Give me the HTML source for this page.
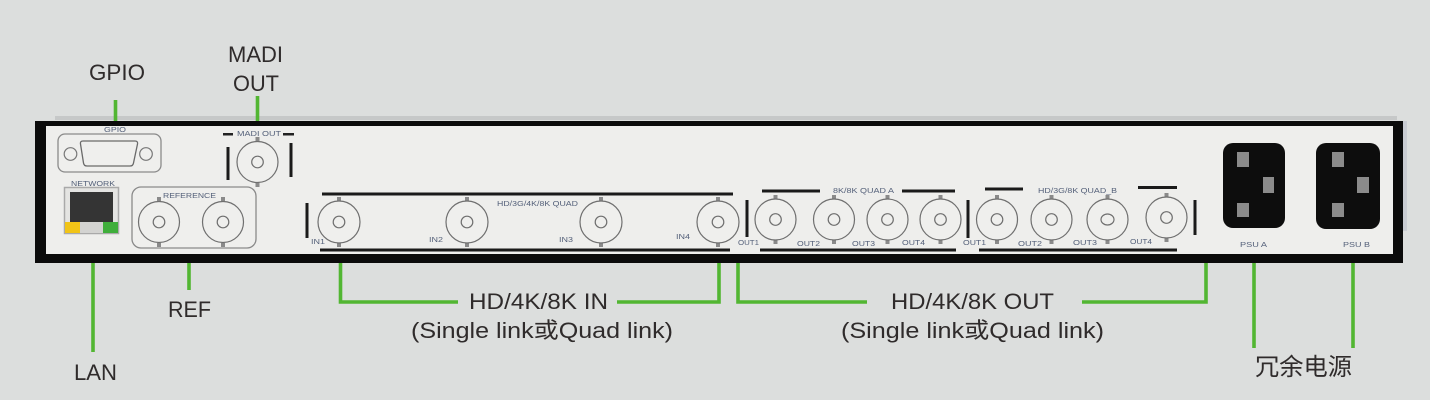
<!DOCTYPE html>
<html><head><meta charset="utf-8"><style>
html,body{margin:0;padding:0;background:#dcdedd;}
svg{display:block;}
.lbl{font-family:"Liberation Sans","Noto Sans CJK SC",sans-serif;fill:#2f2b2b;}
.sm{font-family:"Liberation Sans",sans-serif;fill:#55617a;font-size:7px;}
</style></head><body>
<svg width="1430" height="400" viewBox="0 0 1430 400" xmlns="http://www.w3.org/2000/svg">
<rect x="0" y="0" width="1430" height="400" fill="#dcdedd"/>
<!-- shadow above panel -->
<rect x="55" y="116" width="1342" height="4" fill="#c6c8c8"/>
<rect x="1403" y="121" width="4" height="110" fill="#c9ccd2"/>
<!-- panel -->
<rect x="35" y="121" width="1368" height="142" fill="#0b0b0b"/>
<rect x="46" y="126" width="1347" height="128" fill="#eeeeec"/>

<!-- GPIO -->
<text class="sm" x="104" y="132" textLength="22" lengthAdjust="spacingAndGlyphs">GPIO</text>
<rect x="58" y="134" width="103" height="38" rx="7" fill="#efefed" stroke="#8a8a8a" stroke-width="1.3"/>
<circle cx="70.5" cy="154" r="6.3" fill="#efefed" stroke="#777" stroke-width="1.2"/>
<circle cx="146" cy="154" r="6.3" fill="#efefed" stroke="#777" stroke-width="1.2"/>
<path d="M83 141 L135 141 Q138 141 137.5 144 L133.5 163 Q133 166 130 166 L87 166 Q84 166 83.5 163 L80.5 144 Q80 141 83 141 Z" fill="#efefed" stroke="#6a6a6a" stroke-width="1.3"/>

<!-- NETWORK -->
<text class="sm" x="71" y="186" textLength="44" lengthAdjust="spacingAndGlyphs">NETWORK</text>
<rect x="64.5" y="187.5" width="54" height="46" fill="#e4e4e2" stroke="#a9a9a9" stroke-width="1.5"/>
<rect x="70" y="192" width="43" height="30" fill="#343434"/>
<rect x="65" y="222" width="15" height="11" fill="#f1c417"/>
<rect x="80" y="222" width="23" height="11" fill="#d3d3d1"/>
<rect x="103" y="222" width="15" height="11" fill="#3fae3b"/>

<!-- REFERENCE -->
<rect x="132" y="187" width="124" height="61" rx="9" fill="#efefed" stroke="#8a8a8a" stroke-width="1.3"/>
<text class="sm" x="163" y="198" textLength="53" lengthAdjust="spacingAndGlyphs">REFERENCE</text>

<!-- MADI OUT -->
<text class="sm" x="237" y="136" textLength="44" lengthAdjust="spacingAndGlyphs">MADI OUT</text>
<rect x="223" y="133" width="10" height="2.5" fill="#222"/>
<rect x="283" y="133" width="11" height="2.5" fill="#222"/>
<rect x="226.5" y="147" width="3" height="33" fill="#1a1a1a"/>
<rect x="289.5" y="143" width="3" height="34" fill="#1a1a1a"/>

<!-- IN group bars -->
<rect x="322" y="192.5" width="411" height="3" fill="#1a1a1a"/>
<rect x="320" y="248.5" width="410" height="3" fill="#1a1a1a"/>
<rect x="305.5" y="203" width="3" height="35" fill="#1a1a1a"/>
<rect x="745.5" y="200" width="3" height="37" fill="#1a1a1a"/>
<text class="sm" x="497" y="206" textLength="81" lengthAdjust="spacingAndGlyphs">HD/3G/4K/8K QUAD</text>
<text class="sm" x="311" y="244" textLength="14" lengthAdjust="spacingAndGlyphs">IN1</text>
<text class="sm" x="429" y="242" textLength="14" lengthAdjust="spacingAndGlyphs">IN2</text>
<text class="sm" x="559" y="242" textLength="14" lengthAdjust="spacingAndGlyphs">IN3</text>
<text class="sm" x="676" y="239" textLength="14" lengthAdjust="spacingAndGlyphs">IN4</text>

<!-- OUT group bars -->
<rect x="762" y="189.5" width="58" height="3" fill="#1a1a1a"/>
<rect x="902" y="189.5" width="53" height="3" fill="#1a1a1a"/>
<rect x="985" y="187.5" width="38" height="3" fill="#1a1a1a"/>
<rect x="1138" y="186" width="39" height="3" fill="#1a1a1a"/>
<text class="sm" x="833" y="193" textLength="61" lengthAdjust="spacingAndGlyphs">8K/8K QUAD A</text>
<text class="sm" x="1038" y="193" textLength="79" lengthAdjust="spacingAndGlyphs">HD/3G/8K QUAD_B</text>
<rect x="760" y="248.5" width="196" height="3" fill="#1a1a1a"/>
<rect x="979" y="248.5" width="198" height="3" fill="#1a1a1a"/>
<rect x="966.5" y="200" width="3" height="38" fill="#1a1a1a"/>
<rect x="1193.5" y="200" width="3" height="35" fill="#1a1a1a"/>
<text class="sm" x="738" y="245" textLength="21" lengthAdjust="spacingAndGlyphs">OUT1</text>
<text class="sm" x="797" y="246" textLength="23" lengthAdjust="spacingAndGlyphs">OUT2</text>
<text class="sm" x="852" y="246" textLength="23" lengthAdjust="spacingAndGlyphs">OUT3</text>
<text class="sm" x="902" y="245" textLength="23" lengthAdjust="spacingAndGlyphs">OUT4</text>
<text class="sm" x="963" y="245" textLength="23" lengthAdjust="spacingAndGlyphs">OUT1</text>
<text class="sm" x="1018" y="246" textLength="24" lengthAdjust="spacingAndGlyphs">OUT2</text>
<text class="sm" x="1073" y="245" textLength="24" lengthAdjust="spacingAndGlyphs">OUT3</text>
<text class="sm" x="1130" y="244" textLength="22" lengthAdjust="spacingAndGlyphs">OUT4</text>

<!-- BNC connectors -->
<g fill="#efefed" stroke="#6f6f6f" stroke-width="1.2">
  <g id="b1"><rect x="157" y="197" width="4" height="4" fill="#8a8a8a" stroke="none"/><rect x="157" y="243" width="4" height="4" fill="#8a8a8a" stroke="none"/><circle cx="159" cy="222" r="20.5"/><circle cx="159" cy="222" r="5.8"/></g>
  <g><rect x="221" y="197" width="4" height="4" fill="#8a8a8a" stroke="none"/><rect x="221" y="243" width="4" height="4" fill="#8a8a8a" stroke="none"/><circle cx="223" cy="222" r="20.5"/><circle cx="223" cy="222" r="5.8"/></g>
  <g><rect x="255.5" y="137" width="4" height="4" fill="#8a8a8a" stroke="none"/><rect x="255.5" y="183" width="4" height="4" fill="#8a8a8a" stroke="none"/><circle cx="257.5" cy="162" r="20.5"/><circle cx="257.5" cy="162" r="5.8"/></g>
  <!-- IN -->
  <g><rect x="337" y="197" width="4" height="4" fill="#8a8a8a" stroke="none"/><rect x="337" y="243" width="4" height="4" fill="#8a8a8a" stroke="none"/><circle cx="339" cy="222" r="21"/><circle cx="339" cy="222" r="5.8"/></g>
  <g><rect x="465" y="197" width="4" height="4" fill="#8a8a8a" stroke="none"/><rect x="465" y="243" width="4" height="4" fill="#8a8a8a" stroke="none"/><circle cx="467" cy="222" r="21"/><circle cx="467" cy="222" r="5.8"/></g>
  <g><rect x="599" y="197" width="4" height="4" fill="#8a8a8a" stroke="none"/><rect x="599" y="243" width="4" height="4" fill="#8a8a8a" stroke="none"/><circle cx="601" cy="222" r="21"/><circle cx="601" cy="222" r="5.8"/></g>
  <g><rect x="716" y="197" width="4" height="4" fill="#8a8a8a" stroke="none"/><rect x="716" y="243" width="4" height="4" fill="#8a8a8a" stroke="none"/><circle cx="718" cy="222" r="21"/><circle cx="718" cy="222" r="5.8"/></g>
  <!-- OUT -->
  <g><rect x="773.5" y="195" width="4" height="4" fill="#8a8a8a" stroke="none"/><rect x="773.5" y="240" width="4" height="4" fill="#8a8a8a" stroke="none"/><circle cx="775.5" cy="219.5" r="20.5"/><circle cx="775.5" cy="219.5" r="5.8"/></g>
  <g><rect x="832" y="195" width="4" height="4" fill="#8a8a8a" stroke="none"/><rect x="832" y="240" width="4" height="4" fill="#8a8a8a" stroke="none"/><circle cx="834" cy="219.5" r="20.5"/><circle cx="834" cy="219.5" r="5.8"/></g>
  <g><rect x="885.5" y="195" width="4" height="4" fill="#8a8a8a" stroke="none"/><rect x="885.5" y="240" width="4" height="4" fill="#8a8a8a" stroke="none"/><circle cx="887.5" cy="219.5" r="20.5"/><circle cx="887.5" cy="219.5" r="5.8"/></g>
  <g><rect x="938.5" y="195" width="4" height="4" fill="#8a8a8a" stroke="none"/><rect x="938.5" y="240" width="4" height="4" fill="#8a8a8a" stroke="none"/><circle cx="940.5" cy="219.5" r="20.5"/><circle cx="940.5" cy="219.5" r="5.8"/></g>
  <g><rect x="995" y="195" width="4" height="4" fill="#8a8a8a" stroke="none"/><rect x="995" y="240" width="4" height="4" fill="#8a8a8a" stroke="none"/><circle cx="997" cy="219.5" r="20.5"/><circle cx="997" cy="219.5" r="5.8"/></g>
  <g><rect x="1049.5" y="195" width="4" height="4" fill="#8a8a8a" stroke="none"/><rect x="1049.5" y="240" width="4" height="4" fill="#8a8a8a" stroke="none"/><circle cx="1051.5" cy="219.5" r="20.5"/><circle cx="1051.5" cy="219.5" r="5.8"/></g>
  <g><rect x="1105.5" y="195" width="4" height="4" fill="#8a8a8a" stroke="none"/><rect x="1105.5" y="240" width="4" height="4" fill="#8a8a8a" stroke="none"/><circle cx="1107.5" cy="219.5" r="20.5"/><ellipse cx="1107.5" cy="219.5" rx="6.5" ry="5.5"/></g>
  <g><rect x="1164.5" y="193" width="4" height="4" fill="#8a8a8a" stroke="none"/><rect x="1164.5" y="238" width="4" height="4" fill="#8a8a8a" stroke="none"/><circle cx="1166.5" cy="217.5" r="20.5"/><circle cx="1166.5" cy="217.5" r="5.8"/></g>
</g>

<!-- PSU -->
<rect x="1223" y="143" width="62" height="85" rx="10" fill="#0d0d0d"/>
<rect x="1237" y="152" width="12" height="15" fill="#8b8b8b"/>
<rect x="1263" y="177" width="11" height="16" fill="#8b8b8b"/>
<rect x="1237" y="203" width="12" height="14" fill="#8b8b8b"/>
<rect x="1316" y="143" width="64" height="86" rx="10" fill="#0d0d0d"/>
<rect x="1332" y="152" width="12" height="15" fill="#8b8b8b"/>
<rect x="1357" y="177" width="12" height="16" fill="#8b8b8b"/>
<rect x="1332" y="203" width="12" height="14" fill="#8b8b8b"/>
<text class="sm" x="1240" y="247" textLength="27" lengthAdjust="spacingAndGlyphs">PSU A</text>
<text class="sm" x="1343" y="247" textLength="27" lengthAdjust="spacingAndGlyphs">PSU B</text>

<!-- green connectors -->
<g stroke="#52b632" stroke-width="3.6" fill="none">
  <line x1="115.5" y1="100" x2="115.5" y2="121"/>
  <line x1="257.5" y1="96" x2="257.5" y2="121"/>
  <line x1="93" y1="263" x2="93" y2="352"/>
  <line x1="189" y1="263" x2="189" y2="290"/>
  <polyline points="340.5,263 340.5,302 458,302"/>
  <polyline points="617,302 719,302 719,263"/>
  <polyline points="738,263 738,302 867,302"/>
  <polyline points="1082,302 1206,302 1206,263"/>
  <line x1="1254" y1="263" x2="1254" y2="348"/>
  <line x1="1353" y1="263" x2="1353" y2="348"/>
</g>

<!-- labels -->
<text class="lbl" x="89" y="80" font-size="22" textLength="56" lengthAdjust="spacingAndGlyphs">GPIO</text>
<text class="lbl" x="228" y="62" font-size="22" textLength="55" lengthAdjust="spacingAndGlyphs">MADI</text>
<text class="lbl" x="233" y="91" font-size="22" textLength="46" lengthAdjust="spacingAndGlyphs">OUT</text>
<text class="lbl" x="168" y="317" font-size="22" textLength="43" lengthAdjust="spacingAndGlyphs">REF</text>
<text class="lbl" x="74" y="380" font-size="22" textLength="43" lengthAdjust="spacingAndGlyphs">LAN</text>
<text class="lbl" x="469" y="309" font-size="22" textLength="139" lengthAdjust="spacingAndGlyphs">HD/4K/8K IN</text>
<text class="lbl" x="411" y="338" font-size="22" textLength="262" lengthAdjust="spacingAndGlyphs">(Single link或Quad link)</text>
<text class="lbl" x="891" y="309" font-size="22" textLength="163" lengthAdjust="spacingAndGlyphs">HD/4K/8K OUT</text>
<text class="lbl" x="841" y="338" font-size="22" textLength="263" lengthAdjust="spacingAndGlyphs">(Single link或Quad link)</text>
<text class="lbl" x="1255" y="375" font-size="24" textLength="97" lengthAdjust="spacingAndGlyphs">冗余电源</text>
</svg>
</body></html>
